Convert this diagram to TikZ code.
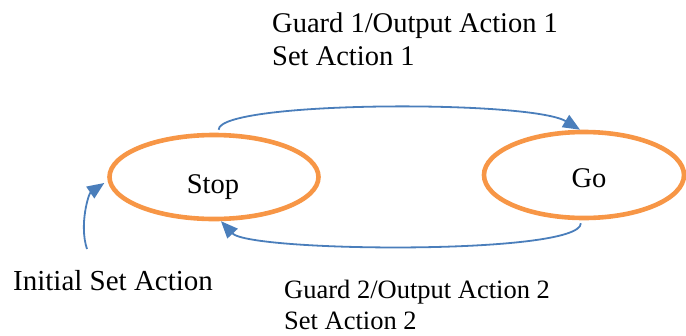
\documentclass[tikz,border=0pt]{standalone}
\usepackage{fontspec}
\setmainfont{Liberation Serif}
\usetikzlibrary{shapes.geometric,arrows.meta}
\definecolor{stateorange}{RGB}{247,150,70}
\definecolor{arrowblue}{RGB}{74,126,187}
\tikzset{
  state/.style={ellipse, draw=stateorange, line width=4.6pt, inner sep=0pt},
  trans/.style={draw=arrowblue, line width=1.8pt,
                -{Triangle[length=17pt,width=14pt]}},
  statename/.style={font=\fontsize{28.5}{34}\selectfont, inner sep=0pt, anchor=base},
  note/.style={align=left, inner sep=0pt, anchor=base west},
}
\begin{document}
\begin{tikzpicture}[x=1pt,y=-1pt]
  \useasboundingbox (0,0) rectangle (686,335);

  % states
  \node[state, minimum width=209pt, minimum height=84pt] (stop) at (214,177) {};
  \node[state, minimum width=200pt, minimum height=86pt] (go) at (584,175) {};
  \node[statename] (stoptext) at (213,193) {Stop};
  \node[statename] (gotext) at (589,187) {Go};

  % transitions
  \draw[trans] ([yshift=3pt]stop.84) .. controls +(0,-29) and +(-50,-30) .. (go.95);
  \draw[trans] ([yshift=-3pt]go.266) .. controls +(0,32) and +(29,31) .. (stop.279);

  % initial transition
  \coordinate (init) at (87,249);
  \draw[trans, shorten >=4pt] (init) .. controls +(-8,-24) and +(-19,13) .. (stop.182);

  % labels (base anchor sits on the last line)
  \node[note, font=\fontsize{28.5}{33}\selectfont] (label1) at (272,65)
    {Guard 1/Output Action 1\\Set Action 1};
  \node[note, font=\fontsize{26.5}{31}\selectfont] (label2) at (284,329)
    {Guard 2/Output Action 2\\Set Action 2};
  \node[note, font=\fontsize{29}{34}\selectfont] (label0) at (13,290)
    {Initial Set Action};
\end{tikzpicture}
\end{document}
